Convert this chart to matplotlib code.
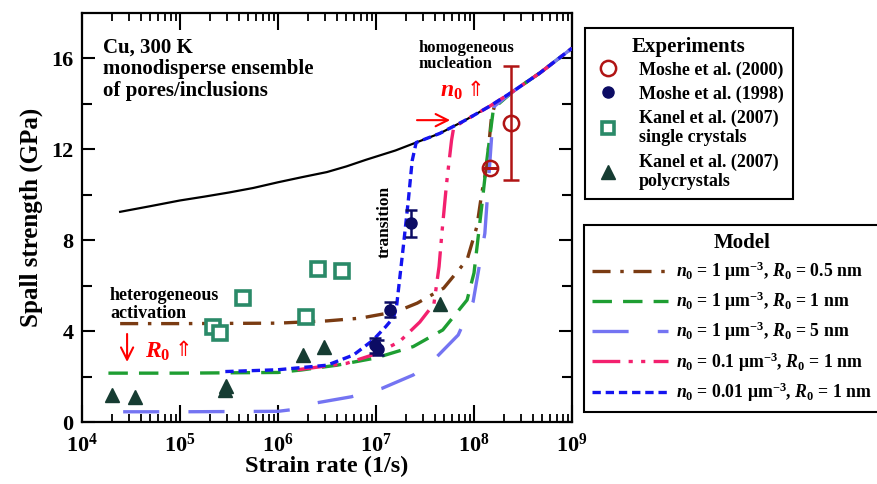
import matplotlib
matplotlib.use("Agg")
import matplotlib.pyplot as plt
from matplotlib.lines import Line2D
import numpy as np

plt.rcParams['font.family'] = ['Liberation Serif', 'DejaVu Sans']
plt.rcParams['font.weight'] = 'bold'
plt.rcParams['mathtext.fontset'] = 'custom'
plt.rcParams['mathtext.rm'] = 'Liberation Serif:bold'
plt.rcParams['mathtext.bf'] = 'Liberation Serif:bold'
plt.rcParams['mathtext.it'] = 'Liberation Serif:bold:italic'
plt.rcParams['lines.scale_dashes'] = False

# ---------------- data ----------------
# homogeneous nucleation (black solid)
homog_x = [2.45e4, 5e4, 1e5, 1.78e5, 3.16e5, 5.6e5, 1e6, 1.78e6, 3.16e6, 5e6, 7.9e6, 1.58e7, 2.5e7,
           4.47e7, 7.9e7, 1.45e8, 2.5e8, 4.7e8, 1e9]
homog_y = [9.25, 9.5, 9.75, 9.92, 10.1, 10.3, 10.55, 10.78, 11.0, 11.25, 11.54, 11.95, 12.28,
           12.7, 13.25, 13.9, 14.55, 15.36, 16.45]

# model: n0 = 1, R0 = 0.5 nm (brown)
m1_x = [2.45e4, 1e5, 1e6, 3.16e6, 6.9e6, 1.62e7, 2.63e7, 4.9e7, 8.5e7, 1.07e8, 1.2e8, 1.35e8, 1.51e8, 1.62e8, 2.5e8, 4.7e8, 1e9]
m1_y = [4.33, 4.33, 4.35, 4.45, 4.57, 4.86, 5.23, 5.89, 7.14, 8.6, 10.07, 11.25, 13.45, 13.9, 14.55, 15.36, 16.45]

# model: n0 = 1, R0 = 1 nm (green)
m2_x = [1.86e4, 1e5, 1e6, 1.74e6, 4e6, 1e7, 2.4e7, 4.8e7, 8.5e7, 1e8, 1.2e8, 1.35e8, 1.58e8, 2.5e8, 4.7e8, 1e9]
m2_y = [2.15, 2.15, 2.18, 2.29, 2.5, 2.82, 3.32, 4.05, 5.37, 6.56, 9.5, 11.5, 13.8, 14.55, 15.36, 16.45]

# model: n0 = 1, R0 = 5 nm (light blue)
m3_x = [2.63e4, 1e5, 1e6, 1.78e6, 2.45e6, 5.6e6, 1.15e7, 2.4e7, 4.2e7, 6.9e7, 9.8e7, 1.2e8, 1.29e8, 1.51e8, 1.62e8, 2.5e8, 4.7e8, 1e9]
m3_y = [0.45, 0.45, 0.47, 0.6, 0.84, 1.11, 1.48, 2.07, 2.88, 3.83, 5.3, 7.5, 8.3, 12.5, 13.9, 14.55, 15.36, 16.45]

# model: n0 = 0.1, R0 = 1 nm (pink)
m4_x = [1.58e6, 5e6, 1e7, 1.74e7, 2.8e7, 3.9e7, 4.4e7, 4.7e7, 5.25e7, 5.9e7, 6.2e7, 7.9e7, 1.45e8, 2.5e8, 4.7e8, 1e9]
m4_y = [2.3, 2.58, 3.0, 3.54, 4.4, 5.2, 6.84, 8.3, 10.5, 12.4, 12.95, 13.25, 13.9, 14.55, 15.36, 16.45]

# model: n0 = 0.01, R0 = 1 nm (blue)
m5_x = [2.9e5, 1e6, 3.16e6, 5.9e6, 9.3e6, 1.26e7, 1.51e7, 1.62e7, 1.74e7, 1.9e7, 2.14e7, 2.34e7, 2.57e7, 3.16e7, 4.47e7, 7.9e7, 1.45e8, 2.5e8, 4.7e8, 1e9]
m5_y = [2.22, 2.3, 2.5, 2.95, 3.6, 4.2, 4.6, 5.08, 6.26, 7.72, 9.78, 11.5, 12.3, 12.45, 12.7, 13.25, 13.9, 14.55, 15.36, 16.45]

# experiments
moshe2000_x = [1.45e8, 2.4e8]
moshe2000_y = [11.17, 13.15]
moshe2000_ylo = [11.17, 10.66]
moshe2000_yhi = [11.17, 15.65]
moshe2000_xlo = [1.2e8, 2.4e8]
moshe2000_xhi = [1.75e8, 2.4e8]

moshe1998_x = [9.8e6, 1.05e7, 1.38e7, 2.3e7]
moshe1998_y = [3.4, 3.22, 4.93, 8.75]
moshe1998_ylo = [3.05, 2.95, 4.64, 8.16]
moshe1998_yhi = [3.7, 3.6, 5.26, 9.34]

kanel_sc_x = [2.15e5, 2.57e5, 4.4e5, 1.93e6, 2.57e6, 4.45e6]
kanel_sc_y = [4.2, 3.9, 5.45, 4.64, 6.73, 6.65]

kanel_pc_x = [2.0e4, 3.47e4, 2.85e5, 2.95e5, 1.78e6, 2.95e6, 4.5e7]
kanel_pc_y = [1.19, 1.11, 1.4, 1.6, 2.95, 3.29, 5.2]

xtick_vals = [1e4, 1e5, 1e6, 1e7, 1e8, 1e9]
xtick_labels = [r'$\mathbf{10^{4}}$', r'$\mathbf{10^{5}}$', r'$\mathbf{10^{6}}$',
                r'$\mathbf{10^{7}}$', r'$\mathbf{10^{8}}$', r'$\mathbf{10^{9}}$']
ytick_vals = [0, 4, 8, 12, 16]
ytick_labels = ['0', '4', '8', '12', '16']

model_labels = [r'$\mathit{n}_0$ = 1 μm$^{-3}$, $\mathit{R}_0$ = 0.5 nm',
                r'$\mathit{n}_0$ = 1 μm$^{-3}$, $\mathit{R}_0$ = 1 nm',
                r'$\mathit{n}_0$ = 1 μm$^{-3}$, $\mathit{R}_0$ = 5 nm',
                r'$\mathit{n}_0$ = 0.1 μm$^{-3}$, $\mathit{R}_0$ = 1 nm',
                r'$\mathit{n}_0$ = 0.01 μm$^{-3}$, $\mathit{R}_0$ = 1 nm']
exp_labels = ['Moshe et al. (2000)', 'Moshe et al. (1998)',
              'Kanel et al. (2007)\nsingle crystals', 'Kanel et al. (2007)\npolycrystals']

# ---------------- styles ----------------
C_BROWN = '#7a3b12'
C_GREEN = '#1e9e32'
C_LBLUE = '#7474f2'
C_PINK = '#f3206e'
C_BLUE = '#1414f0'
C_RED = '#b01414'
C_NAVY = '#0c0c64'
C_SQ = '#2a8a68'
C_TRI = '#163c32'

fig = plt.figure(figsize=(8.77, 4.84), dpi=100)
ax = fig.add_axes([82/877, 62/484, 490/877, 409/484])

lw = 2.4
ax.plot(homog_x, homog_y, color='black', lw=1.6, zorder=2)
l1, = ax.plot(m1_x, m1_y, color=C_BROWN, lw=lw, dashes=(13, 7, 2.5, 7), zorder=3)
l2, = ax.plot(m2_x, m2_y, color=C_GREEN, lw=lw, dashes=(14, 8), zorder=3)
l3, = ax.plot(m3_x, m3_y, color=C_LBLUE, lw=lw, dashes=(26, 21), zorder=3)
l4, = ax.plot(m4_x, m4_y, color=C_PINK, lw=lw, dashes=(20, 6, 3, 6, 3, 6), zorder=3)
l5, = ax.plot(m5_x, m5_y, color=C_BLUE, lw=lw, dashes=(6, 3.5), zorder=4)

# experiments
yerr2000 = [np.array(moshe2000_y) - np.array(moshe2000_ylo), np.array(moshe2000_yhi) - np.array(moshe2000_y)]
xerr2000 = [np.array(moshe2000_x) - np.array(moshe2000_xlo), np.array(moshe2000_xhi) - np.array(moshe2000_x)]
ax.errorbar(moshe2000_x, moshe2000_y, yerr=yerr2000, fmt='none', ecolor=C_RED, elinewidth=1.8, capsize=6, capthick=1.8, zorder=5)
ax.errorbar(moshe2000_x, moshe2000_y, xerr=xerr2000, fmt='none', ecolor=C_RED, elinewidth=1.8, capsize=0, zorder=5)
ax.plot(moshe2000_x, moshe2000_y, 'o', ms=11, mfc='none', mec=C_RED, mew=1.8, zorder=6)

yerr1998 = [np.array(moshe1998_y) - np.array(moshe1998_ylo), np.array(moshe1998_yhi) - np.array(moshe1998_y)]
ax.errorbar(moshe1998_x, moshe1998_y, yerr=yerr1998, fmt='o', color=C_NAVY, ms=8, elinewidth=1.8, capsize=4.5, capthick=1.8, zorder=6)

ax.plot(kanel_sc_x, kanel_sc_y, 's', ms=10, mfc='white', mec=C_SQ, mew=2.6, zorder=6)
ax.plot(kanel_pc_x, kanel_pc_y, '^', ms=10, color=C_TRI, zorder=6)

ax.set_xscale('log')
ax.set_xlim(1e4, 1e9)
ax.set_ylim(0, 18)
ax.set_xticks(xtick_vals)
ax.set_xticklabels(xtick_labels)
ax.set_yticks(ytick_vals)
ax.set_yticklabels(ytick_labels)
ax.set_yticks([2, 6, 10, 14], minor=True)
ax.tick_params(axis='x', which='major', direction='in', length=12, width=1.5,
               top=True, labelsize=16, pad=8)
ax.tick_params(axis='y', which='major', direction='in', length=9.5, width=1.5,
               right=True, labelsize=16, pad=6)
ax.tick_params(axis='y', which='minor', direction='in', length=7.5, width=1.5, right=True)
ax.tick_params(axis='x', which='minor', direction='in', length=5.5, width=1.3, top=True)
for s in ax.spines.values():
    s.set_linewidth(1.6)

ax.set_xlabel('Strain rate (1/s)', fontsize=17.5, fontweight='bold', labelpad=0)
ax.set_ylabel('Spall strength (GPa)', fontsize=18, fontweight='bold', labelpad=6)

# annotations
ax.text(0.043, 0.94, 'Cu, 300 K\nmonodisperse ensemble\nof pores/inclusions', transform=ax.transAxes,
        fontsize=15, fontweight='bold', va='top', ha='left', linespacing=1.1)
ax.text(0.686, 0.935, 'homogeneous\nnucleation', transform=ax.transAxes,
        fontsize=12, fontweight='bold', va='top', ha='left', linespacing=1.05)
ax.text(0.731, 0.807, r'$\mathit{n}_0$', transform=ax.transAxes, color='red', fontsize=17, va='center', ha='left')
ax.text(0.785, 0.812, '⇑', transform=ax.transAxes, color='red', fontsize=15, va='center', ha='left',
        family='DejaVu Sans', fontweight='normal')
ax.annotate('', xy=(0.757, 0.738), xytext=(0.678, 0.738), xycoords='axes fraction',
            arrowprops=dict(arrowstyle='->', color='red', lw=1.5, mutation_scale=22))
ax.text(0.618, 0.489, 'transition', transform=ax.transAxes, rotation=90,
        fontsize=12.5, fontweight='bold', va='center', ha='center')
ax.text(0.057, 0.33, 'heterogeneous\nactivation', transform=ax.transAxes,
        fontsize=13, fontweight='bold', va='top', ha='left', linespacing=1.05)
ax.annotate('', xy=(0.092, 0.140), xytext=(0.092, 0.222), xycoords='axes fraction',
            arrowprops=dict(arrowstyle='->', color='red', lw=1.5, mutation_scale=22))
ax.text(0.129, 0.171, r'$\mathit{R}_0$', transform=ax.transAxes, color='red', fontsize=17, va='center', ha='left')
ax.text(0.19, 0.176, '⇑', transform=ax.transAxes, color='red', fontsize=15, va='center', ha='left',
        family='DejaVu Sans', fontweight='normal')

# legends
exp_handles = [
    Line2D([], [], ls='none', marker='o', ms=11, mfc='none', mec=C_RED, mew=1.8),
    Line2D([], [], ls='none', marker='o', ms=8, color=C_NAVY),
    Line2D([], [], ls='none', marker='s', ms=8.5, mfc='white', mec=C_SQ, mew=2.6),
    Line2D([], [], ls='none', marker='^', ms=10, color=C_TRI),
]
leg1 = fig.legend(exp_handles, exp_labels, loc='upper left', bbox_to_anchor=(585/877, 1 - 28/484),
                  borderaxespad=0,
                  title='Experiments', fontsize=13, title_fontproperties={'weight': 'bold', 'size': 15},
                  frameon=True, fancybox=False, edgecolor='black', framealpha=1,
                  handlelength=1.6, handletextpad=0.9, labelspacing=0.38, borderpad=0.5)
leg1.get_frame().set_linewidth(1.5)
leg1._legend_box.sep = 3

leg2 = fig.legend([l1, l2, l3, l4, l5], model_labels, loc='upper left',
                  bbox_to_anchor=(584/877, 0.1, 0.36, 1 - 225/484 - 0.1), mode='expand',
                  borderaxespad=0,
                  title='Model', fontsize=12.8, title_fontproperties={'weight': 'bold', 'size': 15},
                  frameon=True, fancybox=False, edgecolor='black', framealpha=1,
                  handlelength=4.3, handletextpad=0.4, labelspacing=0.38, borderpad=0.45)
leg2.get_frame().set_linewidth(1.5)

fig.savefig('out.png', dpi=100, facecolor='white')
